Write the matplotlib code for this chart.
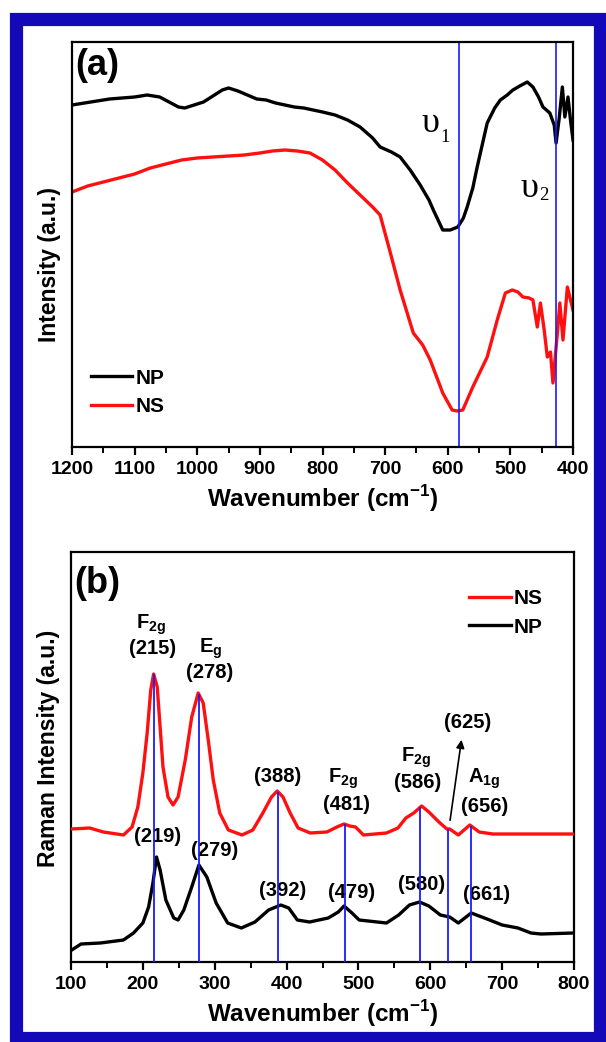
import numpy as np
import matplotlib
matplotlib.use("Agg")
import matplotlib.pyplot as plt
from matplotlib.patches import Rectangle
from matplotlib.ticker import MultipleLocator

plt.rcParams['font.family'] = ['Liberation Sans', 'DejaVu Sans']
plt.rcParams['font.weight'] = 'bold'

# ---- panel (a): FTIR ----
ir_wn_np = [1200, 1180, 1160, 1140, 1120, 1100, 1080, 1060, 1045, 1030, 1020, 1005, 990, 975,
            960, 950, 935, 920, 905, 890, 875, 860, 845, 830, 815, 800, 780, 760, 740, 720,
            708, 690, 676, 660, 644, 630, 623, 608, 596, 584, 575, 569, 560, 553, 545, 537,
            525, 516, 505, 496, 485, 473, 464, 455, 448, 437, 430, 427, 422, 417, 413, 408,
            404, 400]
ir_np = [342, 344, 346, 348, 349, 350, 352, 350, 345, 340, 339, 342, 345, 351,
         357, 359, 356, 352, 348, 347, 344, 342, 340, 339, 337, 335, 332, 327, 320, 309,
         300, 295, 290, 277, 262, 247, 237, 217, 217, 220, 229, 240, 259, 280, 302, 324,
         339, 347, 352, 357, 361, 365, 360, 350, 340, 334, 322, 304, 329, 360, 330, 350,
         327, 307]

ir_wn_ns = [1200, 1175, 1150, 1125, 1100, 1075, 1050, 1025, 1000, 975, 950, 925, 900, 880,
            860, 840, 820, 800, 780, 760, 740, 720, 708, 692, 676, 655, 640, 628, 608, 593,
            585, 576, 560, 537, 521, 508, 497, 488, 480, 470, 464, 457, 452, 446, 441, 436,
            432, 425, 421, 416, 409, 400]
ir_ns = [255, 261, 265, 269, 273, 279, 283, 287, 289, 290, 291, 292, 294, 296,
         297, 296, 294, 287, 277, 264, 252, 240, 232, 195, 157, 114, 102, 87, 54, 37,
         36, 37, 60, 90, 127, 154, 157, 155, 150, 149, 147, 120, 144, 117, 90, 95,
         64, 114, 144, 107, 160, 137]

ir_bands = [582, 427]

# ---- panel (b): Raman ----
ra_wn_ns = [100, 126, 145, 173, 185, 193, 200, 206, 211, 215, 220, 224, 228, 235, 242, 249,
            259, 268, 277, 284, 291, 298, 307, 319, 338, 353, 367, 379, 387, 395, 405, 416,
            433, 456, 470, 480, 488, 496, 507, 539, 555, 566, 577, 588, 598, 612, 623, 627,
            639, 655, 668, 687, 800]
ra_ns = [133, 134, 130, 127, 135, 155, 189, 229, 272, 288, 275, 235, 195, 165, 157, 165,
         202, 245, 269, 259, 222, 182, 149, 132, 127, 132, 149, 165, 171, 165, 149, 134,
         129, 130, 135, 138, 136, 135, 127, 129, 134, 144, 149, 156, 150, 140, 133, 133,
         127, 137, 130, 128, 128]

ra_wn_np = [101, 114, 141, 173, 187, 200, 208, 214, 219, 224, 232, 243, 249, 257, 268, 278,
            289, 302, 318, 337, 356, 375, 392, 403, 415, 432, 458, 472, 480, 491, 501, 539,
            556, 571, 585, 598, 614, 627, 639, 657, 679, 700, 722, 740, 754, 800]
ra_np = [12, 18, 19, 22, 29, 39, 55, 79, 105, 92, 62, 44, 42, 52, 75, 97,
         85, 59, 39, 34, 40, 52, 57, 54, 42, 40, 44, 50, 56, 49, 42, 39,
         47, 57, 60, 56, 47, 45, 39, 49, 43, 37, 34, 29, 28, 29]

ra_bands = [215, 278, 388, 481, 586, 625, 656]

# labels above the NS curve: (text, x, y, vertical alignment)
ns_labels = [("F$_{\\mathregular{2g}}$", 212, 333, 'baseline'), ("(215)", 213, 313, 'center'),
             ("E$_{\\mathregular{g}}$", 294, 309, 'baseline'), ("(278)", 293, 289, 'center'),
             ("(388)", 387, 186, 'center'),
             ("F$_{\\mathregular{2g}}$", 479, 179, 'baseline'), ("(481)", 484, 158, 'center'),
             ("F$_{\\mathregular{2g}}$", 580, 200, 'baseline'), ("(586)", 583, 179, 'center'),
             ("(625)", 652, 239, 'center'),
             ("A$_{\\mathregular{1g}}$", 675, 179, 'baseline'), ("(656)", 675, 156, 'center')]
np_labels = [("(219)", 220, 126), ("(279)", 300, 111), ("(392)", 395, 71),
             ("(479)", 490, 69), ("(580)", 588, 77), ("(661)", 678, 68)]

W, H = 606, 1042
fig = plt.figure(figsize=(W / 100, H / 100), dpi=100)

# dark blue frame round the whole figure
fig.patches.append(Rectangle((15.5 / W, 1 - 1037.5 / H), (600 - 15.5) / W, (1037.5 - 18.5) / H,
                             transform=fig.transFigure, fill=False, edgecolor='#1409b8',
                             linewidth=9.5, zorder=0))

ax1 = fig.add_axes([72 / W, 1 - 447 / H, 501 / W, 405 / H])
ax2 = fig.add_axes([71 / W, 1 - 962 / H, 503 / W, 410 / H])

for ax in (ax1, ax2):
    for s in ax.spines.values():
        s.set_linewidth(1.6)
    ax.tick_params(axis='x', which='major', direction='out', length=6, width=1.6,
                   labelsize=14, pad=4)
    ax.tick_params(axis='x', which='minor', direction='out', length=4, width=1.4)
    ax.tick_params(axis='y', left=False, labelleft=False)
    ax.xaxis.set_major_locator(MultipleLocator(100))
    ax.xaxis.set_minor_locator(MultipleLocator(50))
    for lab in ax.get_xticklabels():
        lab.set_fontweight('bold')

# panel (a)
ax1.plot(ir_wn_np, ir_np, color='black', lw=2.4, label='NP')
ax1.plot(ir_wn_ns, ir_ns, color='#ff1010', lw=2.4, label='NS')
for b in ir_bands:
    ax1.axvline(b, color='#1a1aff', lw=1.2)
ax1.set_xlim(1200, 400)
ax1.set_ylim(0, 405)
ax1.set_xlabel('Wavenumber (cm$^{\\mathregular{-1}}$)', fontsize=17.5, fontweight='bold', labelpad=4)
ax1.set_ylabel('Intensity (a.u.)', fontsize=16.5, fontweight='bold')
ax1.yaxis.set_label_coords(-0.022, 0.45)
ax1.text(0.006, 0.985, '(a)', transform=ax1.transAxes, fontsize=26, fontweight='bold',
         va='top', ha='left')
ax1.text(627, 315, 'υ', family='Liberation Serif', fontweight='normal', fontsize=26,
         ha='center', va='baseline')
ax1.text(612, 305, '1', family='Liberation Serif', fontweight='normal', fontsize=13.5,
         ha='left', va='baseline')
ax1.text(470, 250, 'υ', family='Liberation Serif', fontweight='normal', fontsize=26,
         ha='center', va='baseline')
ax1.text(454, 247, '2', family='Liberation Serif', fontweight='normal', fontsize=13.5,
         ha='left', va='baseline')
leg1 = ax1.legend(loc='lower left', bbox_to_anchor=(0.0, 0.03), frameon=False,
                  fontsize=15, handlelength=2.0, handletextpad=0.15, labelspacing=0.45)
for t in leg1.get_texts():
    t.set_fontweight('bold')

# panel (b)
ax2.plot(ra_wn_ns, ra_ns, color='#ff1010', lw=2.4, label='NS', zorder=3)
ax2.plot(ra_wn_np, ra_np, color='black', lw=2.4, label='NP', zorder=3)
tops = np.interp(ra_bands, ra_wn_ns, ra_ns)
ax2.vlines(ra_bands, 0, tops, color='#1a1aff', lw=1.3, zorder=4)
ax2.set_xlim(100, 800)
ax2.set_ylim(0, 410)
ax2.set_xlabel('Wavenumber (cm$^{\\mathregular{-1}}$)', fontsize=17.5, fontweight='bold', labelpad=4)
ax2.set_ylabel('Raman Intensity (a.u.)', fontsize=16.5, fontweight='bold')
ax2.yaxis.set_label_coords(-0.022, 0.52)
ax2.text(0.006, 0.965, '(b)', transform=ax2.transAxes, fontsize=26, fontweight='bold',
         va='top', ha='left')
for txt, x, y, va in ns_labels:
    ax2.text(x, y, txt, fontsize=14.5, fontweight='bold', ha='center', va=va)
for txt, x, y in np_labels:
    ax2.text(x, y, txt, fontsize=14.5, fontweight='bold', ha='center', va='center')
ax2.annotate('', xy=(644, 225), xytext=(627, 139),
             arrowprops=dict(arrowstyle='-|>', color='black', lw=1.2, mutation_scale=12))
leg2 = ax2.legend(loc='upper right', bbox_to_anchor=(0.975, 0.955), frameon=False,
                  fontsize=15, handlelength=2.0, handletextpad=0.15, labelspacing=0.45)
for t in leg2.get_texts():
    t.set_fontweight('bold')

fig.savefig('out.png', dpi=100)
